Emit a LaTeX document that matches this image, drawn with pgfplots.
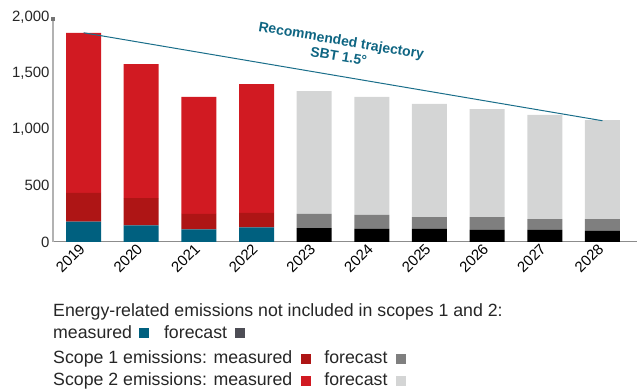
\documentclass[border=0pt]{standalone}
\usepackage{fontspec}
\setmainfont{Liberation Sans}
\usepackage{pgfplots}
\usepackage{pgfplotstable}
\pgfplotsset{compat=1.18}
\usetikzlibrary{arrows.meta}

\definecolor{enmeas}{HTML}{00607F}
\definecolor{enfore}{HTML}{000000}
\definecolor{enforekey}{HTML}{4D4D55}
\definecolor{sonemeas}{HTML}{AE1515}
\definecolor{sonefore}{HTML}{7F7F7F}
\definecolor{stwomeas}{HTML}{D11A22}
\definecolor{stwofore}{HTML}{D4D5D5}
\definecolor{traj}{HTML}{1A6E8A}
\definecolor{trajtext}{HTML}{0E6582}

% segment heights per year (0 = 2019 ... 9 = 2028)
\pgfplotstableread{
x  em   ef   s1m  s1f  s2m   s2f
0  181  0    255  0    1422  0
1  148  0    243  0    1191  0
2  113  0    136  0    1040  0
3  130  0    128  0    1146  0
4  0    124  0    125  0     1093
5  0    116  0    124  0     1049
6  0    116  0    106  0     1005
7  0    107  0    115  0     960
8  0    107  0    97   0     925
9  0    98   0    106  0     880
}\emissions

\newcommand{\keysq}[1]{\textcolor{#1}{\rule{10bp}{10bp}}}

\begin{document}
\begin{tikzpicture}
\path[use as bounding box] (0,0) rectangle (637bp,390bp);

\pgfplotsset{
  base/.style={
    scale only axis, width=584bp, height=225bp,
    at={(53bp,148bp)}, anchor=south west,
    xmin=-0.53, xmax=9.6, ymin=0, ymax=2000,
  },
}

\begin{axis}[
  base,
  ybar stacked, bar width=35bp,
  axis x line*=bottom, axis y line*=left,
  x axis line style={-, draw=black!45, line width=1bp},
  y axis line style={-{Square[length=4bp,width=4bp,black!55]}, draw=black!30, line width=1.5bp},
  tick style={draw=none},
  xtick={0,...,9},
  xticklabels={2019,2020,2021,2022,2023,2024,2025,2026,2027,2028},
  xticklabel style={rotate=45, anchor=east, font=\fontsize{15}{15}\selectfont,
                    inner sep=2bp},
  xticklabel shift={3bp},
  ytick={0,500,1000,1500,2000},
  yticklabel style={font=\fontsize{15}{15}\selectfont, color=black!85},
  /pgf/number format/.cd, 1000 sep={,}, assume math mode=true,
]
\addplot[fill=enmeas, draw=none] table[x=x, y=em] {\emissions};
\addplot[fill=enfore, draw=none] table[x=x, y=ef] {\emissions};
\addplot[fill=sonemeas, draw=none] table[x=x, y=s1m] {\emissions};
\addplot[fill=sonefore, draw=none] table[x=x, y=s1f] {\emissions};
\addplot[fill=stwomeas, draw=none] table[x=x, y=s2m] {\emissions};
\addplot[fill=stwofore, draw=none] table[x=x, y=s2f] {\emissions};
\end{axis}

\begin{axis}[base, hide axis]
\addplot[traj, line width=1bp] coordinates {(0,1860) (9,1078)};
\node[rotate=-9.5, text=trajtext, align=center,
      font=\fontsize{14}{16}\selectfont\bfseries]
  at (axis cs:4.45,1724) {Recommended trajectory\\SBT 1.5°};
\end{axis}

\begin{scope}[every node/.style={anchor=base west, inner sep=0pt,
    font=\fontsize{17.8}{18}\selectfont, text=black!85}]
\node at (53bp,73bp) {Energy-related emissions not included in scopes 1 and 2:};
\node at (53bp,51.5bp) {measured\hspace{7bp}\keysq{enmeas}\hspace{15bp}forecast\hspace{8bp}\keysq{enforekey}};
\node at (53bp,26.5bp) {Scope 1 emissions: measured\hspace{9bp}\keysq{sonemeas}\hspace{13bp}forecast\hspace{9bp}\keysq{sonefore}};
\node at (53bp,4.5bp) {Scope 2 emissions: measured\hspace{9bp}\keysq{stwomeas}\hspace{13bp}forecast\hspace{9bp}\keysq{stwofore}};
\end{scope}
\end{tikzpicture}
\end{document}
